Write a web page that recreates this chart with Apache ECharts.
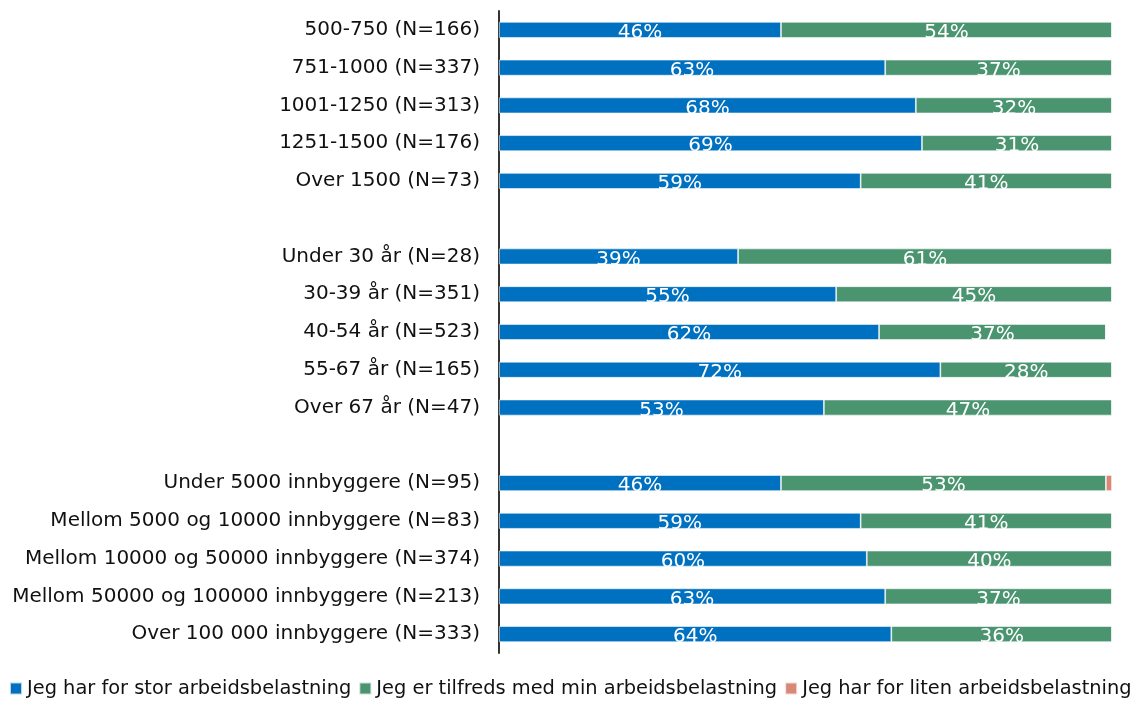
<!DOCTYPE html>
<html>
<head>
<meta charset="utf-8">
<script src="https://cdn.jsdelivr.net/npm/echarts@6/dist/echarts.min.js"></script>
<style>
  html, body { margin: 0; padding: 0; background: #fff; overflow: hidden; }
  #chart { width: 1133px; height: 701px; }
</style>
</head>
<body>
<div id="chart"></div>
<script>
// Groups separated by empty rows ('' categories)
const categories = [
  '500-750 (N=166)', '751-1000 (N=337)', '1001-1250 (N=313)', '1251-1500 (N=176)', 'Over 1500 (N=73)',
  '',
  'Under 30 år (N=28)', '30-39 år (N=351)', '40-54 år (N=523)', '55-67 år (N=165)', 'Over 67 år (N=47)',
  ' ',
  'Under 5000 innbyggere (N=95)', 'Mellom 5000 og 10000 innbyggere (N=83)', 'Mellom 10000 og 50000 innbyggere (N=374)',
  'Mellom 50000 og 100000 innbyggere (N=213)', 'Over 100 000 innbyggere (N=333)'
];

const seriesNames = [
  'Jeg har for stor arbeidsbelastning',
  'Jeg er tilfreds med min arbeidsbelastning',
  'Jeg har for liten arbeidsbelastning'
];

const forStor  = [46, 63, 68, 69, 59, '-', 39, 55, 62, 72, 53, '-', 46, 59, 60, 63, 64];
const tilfreds = [54, 37, 32, 31, 41, '-', 61, 45, 37, 28, 47, '-', 53, 41, 40, 37, 36];
const forLiten = [0, 0, 0, 0, 0, '-', 0, 0, 0, 0, 0, '-', 1, 0, 0, 0, 0];

const colors = ['#0070C0', '#4A9470', '#D98878'];
const FONT = '"DejaVu Sans", sans-serif';

const chart = echarts.init(document.getElementById('chart'), null, { renderer: 'canvas' });

function makeSeries(name, data, color, showLabel) {
  return {
    name: name,
    type: 'bar',
    stack: 'total',
    data: data,
    barWidth: 16,
    itemStyle: { color: color, borderColor: 'rgba(255,255,255,0.7)', borderWidth: 0.8 },
    label: {
      show: showLabel,
      position: 'inside',
      color: '#fff',
      fontFamily: FONT,
      fontSize: 20,
      offset: [0, 3],
      formatter: p => (p.value > 0 ? p.value + '%' : '')
    },
    emphasis: { disabled: true },
    animation: false
  };
}

chart.setOption({
  backgroundColor: '#fff',
  animation: false,
  grid: { left: 499, right: 21, top: 11, bottom: 48, containLabel: false },
  legend: {
    bottom: -2,
    left: 4,
    width: 1400,
    itemWidth: 12,
    itemHeight: 12,
    itemGap: 7,
    icon: 'rect',
    textStyle: { fontFamily: FONT, fontSize: 19.4, color: '#111', padding: [0, 0, 0, 0] },
    data: seriesNames
  },
  xAxis: {
    type: 'value',
    min: 0,
    max: 100,
    show: false
  },
  yAxis: {
    type: 'category',
    data: categories,
    inverse: true,
    axisLine: { show: true, lineStyle: { color: '#333', width: 2 } },
    axisTick: { show: false },
    axisLabel: { fontFamily: FONT, fontSize: 20, color: '#111', margin: 19 },
    splitLine: { show: false }
  },
  series: [
    makeSeries(seriesNames[0], forStor, colors[0], true),
    makeSeries(seriesNames[1], tilfreds, colors[1], true),
    makeSeries(seriesNames[2], forLiten, colors[2], false)
  ]
});
</script>
</body>
</html>
